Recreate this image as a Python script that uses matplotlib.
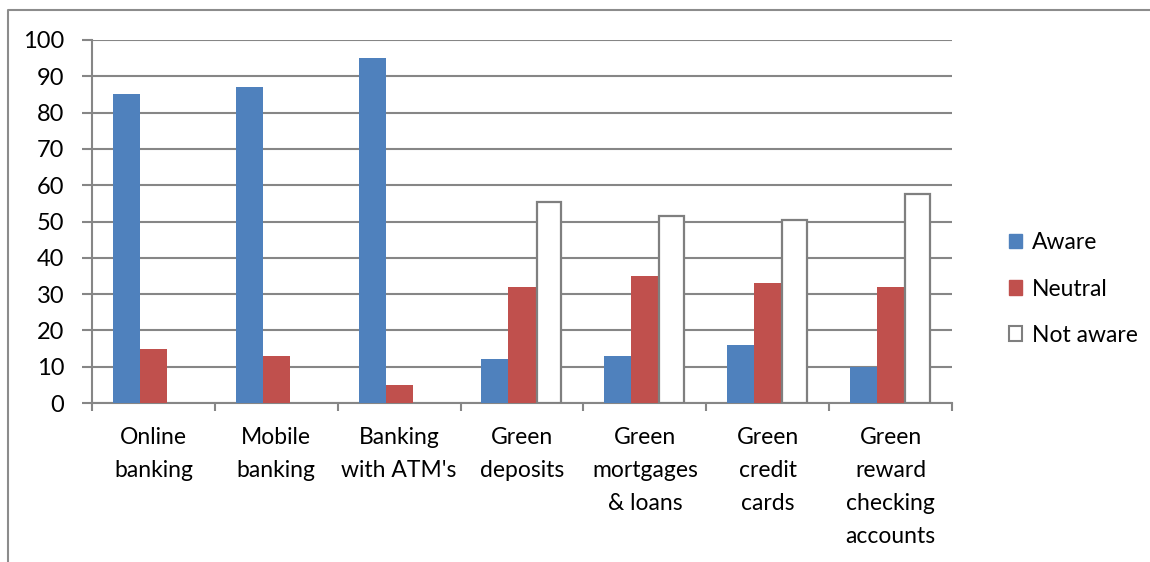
import numpy as np
import matplotlib
matplotlib.use("Agg")
import matplotlib.pyplot as plt
from matplotlib.lines import Line2D
from matplotlib.patches import Patch

# ---------------------------------------------------------------------------
# Data (percent of respondents)
# ---------------------------------------------------------------------------
categories = ["Online\nbanking", "Mobile\nbanking", "Banking\nwith ATM's",
              "Green\ndeposits", "Green\nmortgages\n& loans",
              "Green\ncredit\ncards", "Green\nreward\nchecking\naccounts"]
aware     = [85, 87, 95, 12, 13, 16, 10]
neutral   = [15, 13, 5, 32, 35, 33, 32]
not_aware = [np.nan, np.nan, np.nan, 55.5, 51.5, 50.5, 57.5]
series_names = ["Aware", "Neutral", "Not aware"]
y_ticks = list(range(0, 101, 10))

BLUE = "#4F81BD"
RED = "#C0504D"
GRAY = "#868686"

plt.rcParams["font.family"] = ["Lato", "DejaVu Sans"]

fig = plt.figure(figsize=(11.5, 5.62), dpi=100)
ax = fig.add_axes([92 / 1150, 1 - 403 / 562, 860 / 1150, 363 / 562])

x = np.arange(len(categories)) + 0.5
w = 0.22
ax.bar(x - w, aware, w, color=BLUE, zorder=3)
ax.bar(x, neutral, w, color=RED, zorder=3)
ax.bar(x + w, not_aware, w * 0.92, facecolor="white", edgecolor="#7F7F7F",
       linewidth=1.6, zorder=3)

ax.set_xlim(0, len(categories))
ax.set_ylim(0, 100)
ax.set_yticks(y_ticks)
ax.grid(axis="y", color=GRAY, linewidth=1.5, zorder=0)
ax.set_axisbelow(True)

for s in ["top", "right"]:
    ax.spines[s].set_visible(False)
for s in ["left", "bottom"]:
    ax.spines[s].set_color(GRAY)
    ax.spines[s].set_linewidth(1.5)

# category boundaries carry the tick marks, labels sit at the centres
ax.set_xticks(np.arange(len(categories) + 1))
ax.set_xticklabels([])
ax.tick_params(axis="x", which="major", length=6, width=1.5, color=GRAY)
ax.set_xticks(x, minor=True)
ax.set_xticklabels(categories, minor=True, fontsize=16.5, linespacing=1.72,
                   va="top")
ax.tick_params(axis="x", which="minor", length=0, pad=17)
ax.tick_params(axis="y", length=7, width=1.5, color=GRAY, labelsize=17,
               pad=13)

handles = [Patch(facecolor=BLUE, edgecolor=BLUE),
           Patch(facecolor=RED, edgecolor=RED),
           Patch(facecolor="white", edgecolor="#7F7F7F", linewidth=1.5)]
fig.legend(handles, series_names, loc="center left",
           bbox_to_anchor=(988 / 1150, 1 - 289 / 562), frameon=False,
           fontsize=16.5, handlelength=0.6, handleheight=0.6,
           handletextpad=0.4, labelspacing=1.1)

# outer chart frame (left and top edges visible in the crop)
fx = 8 / 1150
fy = 1 - 10 / 562
fig.add_artist(Line2D([fx, fx, 1.0], [0.0, fy, fy], transform=fig.transFigure,
                      color="#8C8C8C", linewidth=1.5))

fig.savefig("out.png", dpi=100)
